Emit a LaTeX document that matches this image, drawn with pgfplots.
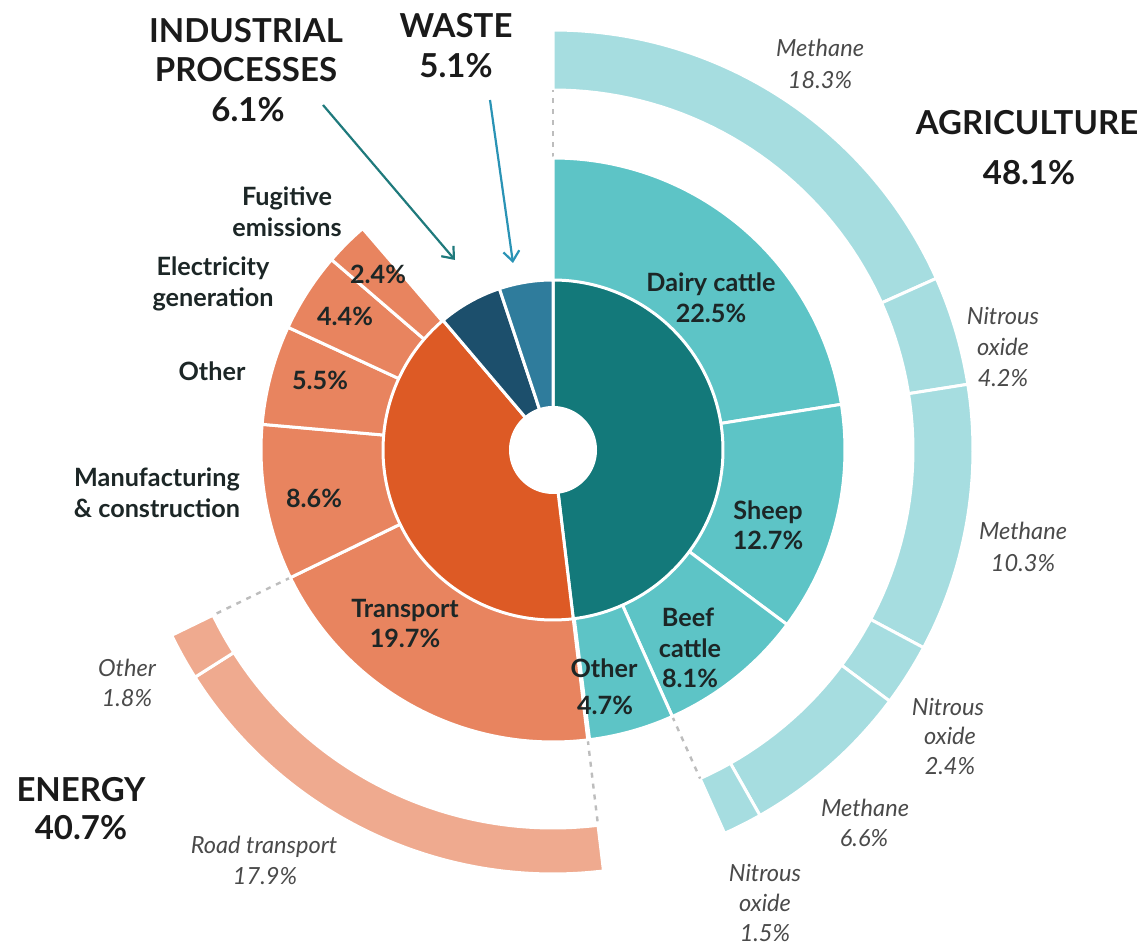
\documentclass[border=0pt]{standalone}
\usepackage{pgfplots}
\pgfplotsset{compat=1.18}
\usepackage{fontspec}
\setmainfont{Lato}
\usetikzlibrary{arrows.meta}

\definecolor{agriA}{HTML}{13797A}
\definecolor{agriB}{HTML}{5DC4C6}
\definecolor{agriC}{HTML}{A6DDE0}
\definecolor{enA}{HTML}{DD5A25}
\definecolor{enB}{HTML}{E8845F}
\definecolor{enC}{HTML}{EFAA8F}
\definecolor{indus}{HTML}{1C4F6C}
\definecolor{waste}{HTML}{2F7C9C}
\definecolor{indarrow}{HTML}{1F7A7C}
\definecolor{wastearrow}{HTML}{2A93B5}
\definecolor{txt}{HTML}{1A1A1A}
\definecolor{segtxt}{HTML}{1C2626}
\definecolor{gastxt}{HTML}{4A4A4A}
\definecolor{dash}{HTML}{BDBDBD}

\newcommand\catfont{\fontsize{16.5}{20}\selectfont\bfseries}
\newcommand\segfont{\fontsize{12.6}{15}\selectfont\bfseries}
\newcommand\gasfont{\fontsize{11.8}{14}\selectfont\itshape}

% running start (percent of the full circle, clockwise from 12 o'clock)
\newcommand\startat[1]{\xdef\cum{#1}}
% \seg{value in percent}{radius}{colour}: pie sector drawn from the centre
\newcommand\seg[3]{%
  \pgfmathsetmacro\na{\cum*3.6}%
  \pgfmathsetmacro\nxt{\cum+#1}%
  \pgfmathsetmacro\nb{\nxt*3.6}%
  \edef\temp{\noexpand\addplot[fill=#3, draw=white, line width=1.5pt, line join=round, domain=\na:\nb, samples=90] ({#2*sin(x)},{#2*cos(x)}) -- (axis cs:0,0) -- cycle;}%
  \temp
  \xdef\cum{\nxt}}
% radial dashed connector at a percent position
\newcommand\connector[3]{%
  \pgfmathsetmacro\na{#1*3.6}%
  \edef\temp{\noexpand\addplot[draw=dash, line width=1.2pt, dash pattern=on 2.5pt off 3pt, domain=#2:#3, samples=2] ({x*sin(\na)},{x*cos(\na)});}%
  \temp}

\begin{document}
\begin{tikzpicture}
\begin{axis}[name=main, x=0.5pt, y=0.5pt, xmin=-553, xmax=587, ymin=-496, ymax=450, hide axis, clip=false]

% ---- outer ring: agriculture gases
\startat{0}
\seg{18.3}{420}{agriC} % Methane (dairy)
\seg{4.2}{420}{agriC}  % Nitrous oxide (dairy)
\seg{10.3}{420}{agriC} % Methane (sheep)
\seg{2.4}{420}{agriC}  % Nitrous oxide (sheep)
\seg{6.6}{420}{agriC}  % Methane (beef)
\seg{1.5}{420}{agriC}  % Nitrous oxide (beef)
\startat{0}
\seg{43.3}{360}{white}

% ---- outer ring: transport
\startat{48.1}
\seg{17.9}{424}{enC} % Road transport
\seg{1.8}{424}{enC}  % Other
\startat{48.1}
\seg{19.7}{378}{white}

% ---- connectors
\connector{0}{292}{360}
\connector{43.3}{292}{360}
\connector{48.1}{292}{378}
\connector{67.8}{292}{378}

% ---- middle ring
\startat{0}
\seg{22.5}{292}{agriB} % Dairy cattle
\seg{12.7}{292}{agriB} % Sheep
\seg{8.1}{292}{agriB}  % Beef cattle
\seg{4.7}{292}{agriB}  % Other
\startat{48.1}
\seg{19.7}{292}{enB} % Transport
\seg{8.6}{292}{enB}  % Manufacturing & construction
\seg{5.5}{292}{enB}  % Other
\seg{4.4}{292}{enB}  % Electricity generation
\seg{2.4}{292}{enB}  % Fugitive emissions

% ---- inner ring
\startat{0}
\seg{48.1}{170}{agriA} % Agriculture
\seg{40.7}{170}{enA}   % Energy
\seg{6.1}{170}{indus}  % Industrial processes
\seg{5.1}{170}{waste}  % Waste

% ---- hole
\addplot[fill=white, draw=none, domain=0:360, samples=120] ({44*sin(x)},{44*cos(x)}) -- cycle;

% ---- arrows
\addplot[indarrow, line width=1.1pt, -{Straight Barb[length=5pt,width=8pt]}] coordinates {(-230,345) (-98,190)};
\addplot[wastearrow, line width=1.1pt, -{Straight Barb[length=5pt,width=8pt]}] coordinates {(-63,350) (-40,187)};

% ---- category labels
\begin{scope}[every node/.style={anchor=base, text=txt, font=\catfont}]
\node at (axis cs:-307,407) {INDUSTRIAL};
\node at (axis cs:-307,368) {PROCESSES};
\node at (axis cs:-305,328) {6.1\%};
\node at (axis cs:-97,412) {WASTE};
\node at (axis cs:-97,372) {5.1\%};
\node at (axis cs:474,315) {AGRICULTURE};
\node at (axis cs:476,265) {48.1\%};
\node at (axis cs:-472,-352) {ENERGY};
\node at (axis cs:-472,-390) {40.7\%};
\end{scope}

% ---- sub-sector labels
\begin{scope}[every node/.style={anchor=base, text=segtxt, font=\segfont}]
\node at (axis cs:-266,244) {Fugitive};
\node at (axis cs:-266,213) {emissions};
\node at (axis cs:-340,174) {Electricity};
\node at (axis cs:-340,143) {generation};
\node at (axis cs:-341,69) {Other};
\node at (axis cs:-396,-37) {Manufacturing};
\node at (axis cs:-396,-68) {\& construction};
\node at (axis cs:-175,166) {2.4\%};
\node at (axis cs:-208,124) {4.4\%};
\node at (axis cs:-233,60) {5.5\%};
\node at (axis cs:-239,-58) {8.6\%};
\node at (axis cs:-148,-168) {Transport};
\node at (axis cs:-148,-198) {19.7\%};
\node at (axis cs:158,158) {Dairy cattle};
\node at (axis cs:158,127) {22.5\%};
\node at (axis cs:215,-70) {Sheep};
\node at (axis cs:215,-100) {12.7\%};
\node at (axis cs:135,-177) {Beef};
\node at (axis cs:137,-208) {cattle};
\node at (axis cs:137,-238) {8.1\%};
\node at (axis cs:51,-228) {Other};
\node at (axis cs:52,-265) {4.7\%};
\end{scope}

% ---- gas labels
\begin{scope}[every node/.style={anchor=base, text=gastxt, font=\gasfont}]
\node at (axis cs:267,393) {Methane};
\node at (axis cs:267,361) {18.3\%};
\node at (axis cs:450,125) {Nitrous};
\node at (axis cs:450,94) {oxide};
\node at (axis cs:450,63) {4.2\%};
\node at (axis cs:470,-90) {Methane};
\node at (axis cs:470,-122) {10.3\%};
\node at (axis cs:395,-266) {Nitrous};
\node at (axis cs:397,-295) {oxide};
\node at (axis cs:397,-325) {2.4\%};
\node at (axis cs:312,-367) {Methane};
\node at (axis cs:311,-397) {6.6\%};
\node at (axis cs:212,-432) {Nitrous};
\node at (axis cs:212,-462) {oxide};
\node at (axis cs:212,-492) {1.5\%};
\node at (axis cs:-426,-227) {Other};
\node at (axis cs:-426,-257) {1.8\%};
\node at (axis cs:-289,-404) {Road transport};
\node at (axis cs:-288,-435) {17.9\%};
\end{scope}

\end{axis}
\pgfresetboundingbox
\path (main.south west) rectangle (main.north east);
\end{tikzpicture}
\end{document}
